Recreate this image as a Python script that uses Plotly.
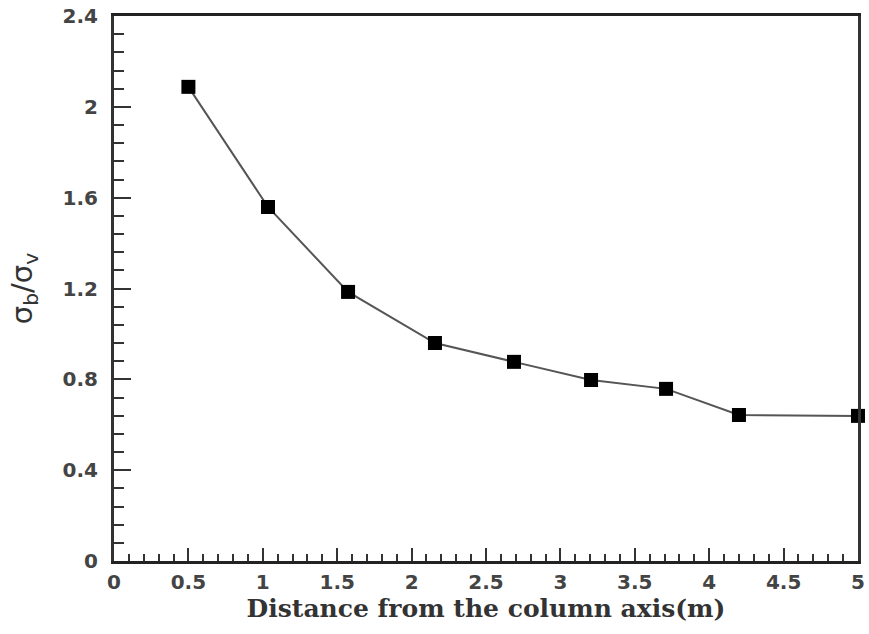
import plotly.graph_objects as go

distance = [0.5, 1.035, 1.573, 2.157, 2.688, 3.206, 3.71, 4.2, 5.0]
ratio = [2.088, 1.559, 1.185, 0.960, 0.877, 0.797, 0.758, 0.643, 0.639]

x_ticks = [0, 0.5, 1, 1.5, 2, 2.5, 3, 3.5, 4, 4.5, 5]
x_labels = ["0", "0.5", "1", "1.5", "2", "2.5", "3", "3.5", "4", "4.5", "5"]
y_ticks = [0, 0.4, 0.8, 1.2, 1.6, 2, 2.4]
y_labels = ["0", "0.4", "0.8", "1.2", "1.6", "2", "2.4"]

fig = go.Figure()
fig.add_trace(go.Scatter(
    x=distance, y=ratio, mode="lines+markers",
    line=dict(color="#555555", width=2),
    marker=dict(symbol="square", size=14, color="black"),
    cliponaxis=False, showlegend=False,
))

tick_font = dict(family="DejaVu Sans, Liberation Sans", size=20, color="#444", weight="bold")

fig.update_layout(
    width=869, height=634,
    margin=dict(l=114, r=11, t=16, b=73),
    paper_bgcolor="white", plot_bgcolor="white",
    xaxis=dict(
        range=[0, 5], tickmode="array", tickvals=x_ticks, ticktext=x_labels,
        automargin=False,
        ticks="inside", ticklen=13, tickwidth=2, tickcolor="#333",
        minor=dict(dtick=0.1, ticks="inside", ticklen=7, tickwidth=1.5, tickcolor="#333"),
        showgrid=False, zeroline=False,
        showline=True, linecolor="#222", linewidth=2.5, mirror=True,
        ticklabelstandoff=1,
        tickfont=tick_font,
        title=dict(text="Distance from the column axis(m)",
                   font=dict(family="DejaVu Serif, Liberation Serif", size=25,
                             color="#333", weight="bold"),
                   standoff=6),
    ),
    yaxis=dict(
        range=[0, 2.4], tickmode="array", tickvals=y_ticks, ticktext=y_labels,
        automargin=False,
        ticks="inside", ticklen=17, tickwidth=2, tickcolor="#333",
        minor=dict(dtick=0.08, ticks="inside", ticklen=10, tickwidth=1.5, tickcolor="#333"),
        showgrid=False, zeroline=False,
        showline=True, linecolor="#333", linewidth=3, mirror=True,
        ticklabelstandoff=9,
        tickfont=tick_font,
        title=dict(text="σ<sub>b</sub>/σ<sub>v</sub>",
                   font=dict(family="DejaVu Sans, Liberation Sans", size=29, color="#333"),
                   standoff=22),
    ),
)

fig.write_html(
    "out.html",
    config={"displayModeBar": False},
    post_script="document.body.style.margin='0';document.body.style.overflow='hidden';",
)
